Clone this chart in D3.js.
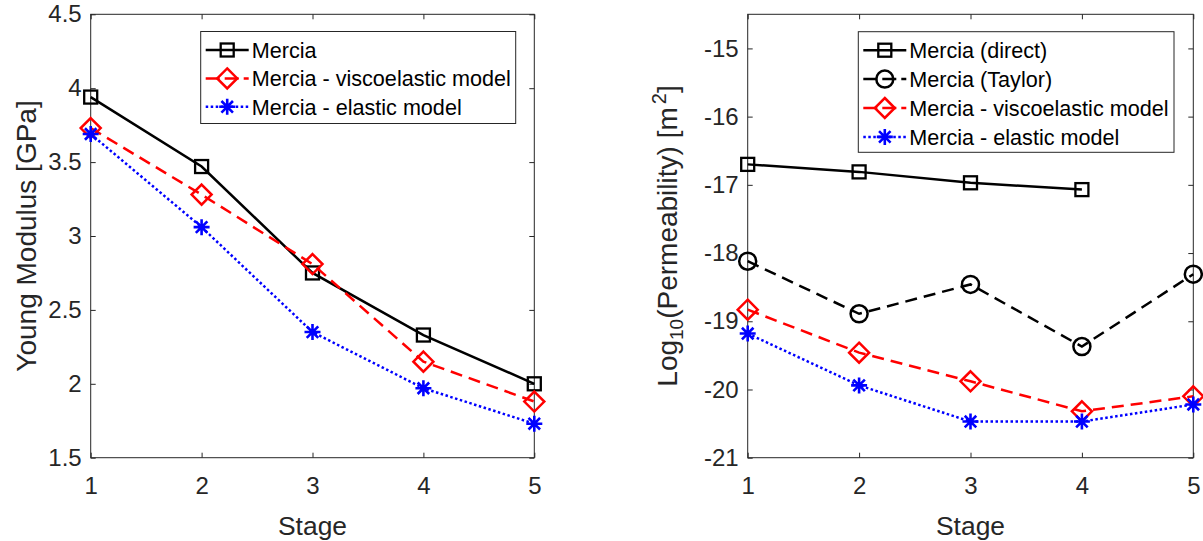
<!DOCTYPE html>
<html>
<head>
<meta charset="utf-8">
<script src="https://cdn.jsdelivr.net/npm/d3@7"></script>
<style>
  html, body { margin: 0; padding: 0; background: #fff; }
  svg { display: block; font-family: "Liberation Sans", Arial, Helvetica, sans-serif; }
</style>
</head>
<body>
<svg id="chart" width="1203" height="541"></svg>
<script>
// ---- data ----
const stages = [1, 2, 3, 4, 5];
const stagesDirect = [1, 2, 3, 4];

const youngMercia  = [3.94, 3.47, 2.75, 2.33, 2.00];
const youngVisco   = [3.73, 3.28, 2.81, 2.15, 1.88];
const youngElastic = [3.69, 3.06, 2.35, 1.97, 1.73];

const permDirect  = [-16.70, -16.81, -16.97, -17.07];
const permTaylor  = [-18.12, -18.89, -18.46, -19.37, -18.31];
const permVisco   = [-18.83, -19.46, -19.88, -20.32, -20.10];
const permElastic = [-19.18, -19.94, -20.47, -20.47, -20.22];

const youngTicks = [1.5, 2, 2.5, 3, 3.5, 4, 4.5];
const permTicks = [-21, -20, -19, -18, -17, -16, -15];

const legendLeft = ["Mercia", "Mercia - viscoelastic model", "Mercia - elastic model"];
const legendRight = ["Mercia (direct)", "Mercia (Taylor)", "Mercia - viscoelastic model", "Mercia - elastic model"];

// ---- styles ----
const AX = "#262626";
const TICK_FS = 24, LABEL_FS = 26.4, YLABEL_FS = 28, LEG_FS = 21.6;
const LW = 2.5;
const styles = {
  mercia:  {color: "#000000", dash: null,      marker: "square"},
  taylor:  {color: "#000000", dash: "12,7",    marker: "circle"},
  visco:   {color: "#ff0000", dash: "12,7",    marker: "diamond"},
  elastic: {color: "#0000ff", dash: "2.5,2.5", marker: "asterisk"}
};

const svg = d3.select("#chart");

function drawMarker(g, type, x, y, color) {
  if (type === "square") {
    const h = 6.5;
    g.append("rect").attr("x", x - h).attr("y", y - h).attr("width", 2 * h).attr("height", 2 * h)
      .attr("fill", "none").attr("stroke", color).attr("stroke-width", 2.3);
  } else if (type === "circle") {
    g.append("circle").attr("cx", x).attr("cy", y).attr("r", 8.5)
      .attr("fill", "none").attr("stroke", color).attr("stroke-width", 2.5);
  } else if (type === "diamond") {
    const h = 10;
    g.append("path").attr("d", `M${x},${y - h}L${x + h},${y}L${x},${y + h}L${x - h},${y}Z`)
      .attr("fill", "none").attr("stroke", color).attr("stroke-width", 2.5);
  } else if (type === "asterisk") {
    const h = 8, d = h * 0.72;
    g.append("path").attr("d",
      `M${x - h},${y}L${x + h},${y}M${x},${y - h}L${x},${y + h}M${x - d},${y - d}L${x + d},${y + d}M${x - d},${y + d}L${x + d},${y - d}`)
      .attr("fill", "none").attr("stroke", color).attr("stroke-width", 2.6);
  }
}

function makePanel(opts) {
  const {x0, x1, y0, y1, ydomain, yticks, yfmt, series, legend, ylabel} = opts;
  const g = svg.append("g");
  const x = d3.scaleLinear().domain([1, 5]).range([x0, x1]);
  const y = d3.scaleLinear().domain(ydomain).range([y1, y0]);

  g.append("rect").attr("x", x0).attr("y", y0).attr("width", x1 - x0).attr("height", y1 - y0)
    .attr("fill", "none").attr("stroke", AX).attr("stroke-width", 1);

  const styleAxis = a => {
    a.select(".domain").remove();
    a.selectAll(".tick line").attr("stroke", AX).attr("stroke-width", 1);
    a.selectAll(".tick text").attr("fill", AX).style("font-size", TICK_FS + "px")
      .style("font-family", '"Liberation Sans", Arial, Helvetica, sans-serif');
  };

  g.append("g").attr("transform", `translate(0,${y1})`)
    .call(d3.axisBottom(x).tickValues(stages).tickFormat(d => String(d)).tickSize(-5).tickPadding(19))
    .call(styleAxis);
  g.append("g").attr("transform", `translate(0,${y0})`)
    .call(d3.axisTop(x).tickValues(stages).tickFormat("").tickSize(-5))
    .call(styleAxis);
  g.append("g").attr("transform", `translate(${x0},0)`)
    .call(d3.axisLeft(y).tickValues(yticks).tickFormat(yfmt).tickSize(-5).tickPadding(9))
    .call(styleAxis);
  g.append("g").attr("transform", `translate(${x1},0)`)
    .call(d3.axisRight(y).tickValues(yticks).tickFormat("").tickSize(-5))
    .call(styleAxis);

  series.forEach(s => {
    const st = styles[s.style];
    const pts = s.xs.map((xv, i) => [x(xv), y(s.ys[i])]);
    g.append("path").attr("d", d3.line()(pts)).attr("fill", "none")
      .attr("stroke", st.color).attr("stroke-width", LW)
      .attr("stroke-dasharray", st.dash);
    pts.forEach(p => drawMarker(g, st.marker, p[0], p[1], st.color));
  });

  g.append("text").attr("x", (x0 + x1) / 2).attr("y", 535).attr("text-anchor", "middle")
    .attr("fill", AX).style("font-size", LABEL_FS + "px").text("Stage");

  ylabel(g, (y0 + y1) / 2);

  const L = legend;
  const lg = g.append("g");
  lg.append("rect").attr("x", L.x).attr("y", L.y).attr("width", L.w).attr("height", L.h)
    .attr("fill", "#fff").attr("stroke", AX).attr("stroke-width", 1);
  L.items.forEach((label, i) => {
    const st = styles[L.styles[i]];
    const cy = L.y + L.firstRow + i * L.rowH;
    lg.append("path").attr("d", `M${L.x + 5},${cy}L${L.x + 48},${cy}`)
      .attr("stroke", st.color).attr("stroke-width", LW).attr("fill", "none")
      .attr("stroke-dasharray", st.dash ? (st.dash === "12,7" ? "14,5" : st.dash) : null);
    drawMarker(lg, st.marker, L.x + 26.5, cy, st.color);
    lg.append("text").attr("x", L.x + 51).attr("y", cy).attr("dy", "0.36em")
      .attr("fill", "#000").style("font-size", LEG_FS + "px").text(label);
  });
}

makePanel({
  x0: 90.7, x1: 534.3, y0: 14.3, y1: 457.7,
  ydomain: [1.5, 4.5], yticks: youngTicks, yfmt: d => String(d),
  series: [
    {xs: stages, ys: youngMercia, style: "mercia"},
    {xs: stages, ys: youngVisco, style: "visco"},
    {xs: stages, ys: youngElastic, style: "elastic"}
  ],
  legend: {x: 200.7, y: 31.5, w: 315, h: 92, firstRow: 18.5, rowH: 28.4,
           items: legendLeft, styles: ["mercia", "visco", "elastic"]},
  ylabel: (g, cy) => {
    g.append("text").attr("transform", `translate(36,${cy}) rotate(-90)`)
      .attr("text-anchor", "middle").attr("fill", AX).style("font-size", YLABEL_FS + "px")
      .text("Young Modulus [GPa]");
  }
});

makePanel({
  x0: 747.7, x1: 1193.3, y0: 14.3, y1: 457.7,
  ydomain: [-21, -14.5], yticks: permTicks, yfmt: d => String(d),
  series: [
    {xs: stagesDirect, ys: permDirect, style: "mercia"},
    {xs: stages, ys: permTaylor, style: "taylor"},
    {xs: stages, ys: permVisco, style: "visco"},
    {xs: stages, ys: permElastic, style: "elastic"}
  ],
  legend: {x: 858.3, y: 31.7, w: 315.7, h: 120.6, firstRow: 18.5, rowH: 28.9,
           items: legendRight, styles: ["mercia", "taylor", "visco", "elastic"]},
  ylabel: (g, cy) => {
    const t = g.append("text").attr("transform", `translate(677,${cy}) rotate(-90)`)
      .attr("text-anchor", "middle").attr("fill", AX).style("font-size", YLABEL_FS + "px");
    t.append("tspan").text("Log");
    t.append("tspan").attr("dy", 6).style("font-size", "19px").text("10");
    t.append("tspan").attr("dy", -6).text("(Permeability) [m");
    t.append("tspan").attr("dy", -11).attr("dx", 3).style("font-size", "20px").text("2");
    t.append("tspan").attr("dy", 11).text("]");
  }
});
</script>
</body>
</html>
